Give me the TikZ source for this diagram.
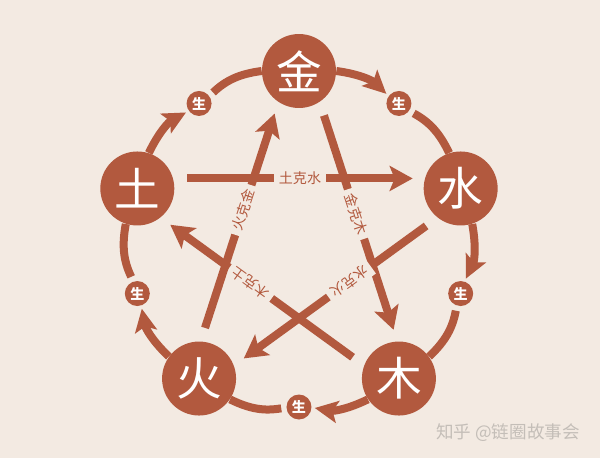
\documentclass[tikz,border=0pt]{standalone}
\usepackage{fontspec}
\newfontfamily\cjk{Noto Sans CJK SC}
\usetikzlibrary{arrows.meta,calc}

\definecolor{bgbeige}{RGB}{243,234,226}
\definecolor{rust}{RGB}{178,89,62}
\definecolor{markgray}{RGB}{196,190,184}

\tikzset{
  elem/.style={circle,fill=rust,text=white,minimum size=1.48cm,inner sep=0pt,font=\cjk\fontsize{26}{26}\selectfont},
  sheng/.style={circle,fill=rust,text=white,minimum size=0.5cm,inner sep=0pt,font=\cjk\bfseries\fontsize{8}{8}\selectfont},
  ring/.style={draw=rust,line width=0.16cm},
  ringarrow/.style={ring,-{Stealth[length=0.46cm,width=0.44cm,inset=0.1cm]},shorten >=0.06cm},
  ke/.style={draw=rust,line width=0.16cm,-{Stealth[length=0.46cm,width=0.5cm,inset=0.1cm]}},
  kelabel/.style={fill=bgbeige,text=rust,inner xsep=0.1cm,inner ysep=0.05cm,sloped,allow upside down,font=\cjk\fontsize{8}{8}\selectfont}
}

\begin{document}
\begin{tikzpicture}[x=0.02cm,y=0.02cm]

\fill[bgbeige] (-299,-217) rectangle (301,241);

% the five elements
\node[elem] (jin) at (90:170) {金};
\node[elem] (shui) at (18:170) {水};
\node[elem] (mu) at (-54:170) {木};
\node[elem] (huo) at (-126:170) {火};
\node[elem] (tu) at (162:170) {土};

% sheng marks on the ring
\node[sheng] (s1) at (54:170) {生};
\node[sheng] (s2) at (-18:170) {生};
\node[sheng] (s3) at (-90:166) {生};
\node[sheng] (s4) at (198:170) {生};
\node[sheng] (s5) at (126:170) {生};

% ring
\draw[ringarrow] (jin) to[bend left=18] (s1);
\draw[ring,shorten <=0.1cm] (s1) to[bend left=18] (shui);
\draw[ringarrow] (shui) to[bend left=18] (s2);
\draw[ring,shorten <=0.1cm] (s2) to[bend left=18] (mu);
\draw[ringarrow] (mu) to[bend left=18] (s3);
\draw[ring,shorten <=0.1cm] (s3) to[bend left=18] (huo);
\draw[ringarrow] (huo) to[bend left=18] (s4);
\draw[ring,shorten <=0.1cm] (s4) to[bend left=18] (tu);
\draw[ringarrow] (tu) to[bend left=18] (s5);
\draw[ring,shorten <=0.1cm] (s5) to[bend left=18] (jin);

% ke star
\draw[ke] ($(tu)!1cm!(shui)!0.2cm!90:(shui)$) -- ($(shui)!0.96cm!(tu)!0.2cm!-90:(tu)$) node[kelabel,pos=0.5] {土克水};
\draw[ke] ($(jin)!1cm!(mu)!0.2cm!90:(mu)$) -- ($(mu)!0.96cm!(jin)!0.2cm!-90:(jin)$) node[kelabel,pos=0.46] {金克木};
\draw[ke] ($(shui)!1cm!(huo)!0.2cm!90:(huo)$) -- ($(huo)!0.96cm!(shui)!0.2cm!-90:(shui)$) node[kelabel,pos=0.42] {水克火};
\draw[ke] ($(mu)!1cm!(tu)!0.2cm!90:(tu)$) -- ($(tu)!0.96cm!(mu)!0.2cm!-90:(mu)$) node[kelabel,pos=0.56] {木克土};
\draw[ke] ($(huo)!1cm!(jin)!0.2cm!90:(jin)$) -- ($(jin)!0.96cm!(huo)!0.2cm!-90:(huo)$) node[kelabel,pos=0.55] {火克金};

% watermark
\node[anchor=east,text=markgray,font=\cjk\fontsize{10}{10}\selectfont] (mark) at (287,-191.5) {知乎 @链圈故事会};
\end{tikzpicture}
\end{document}
